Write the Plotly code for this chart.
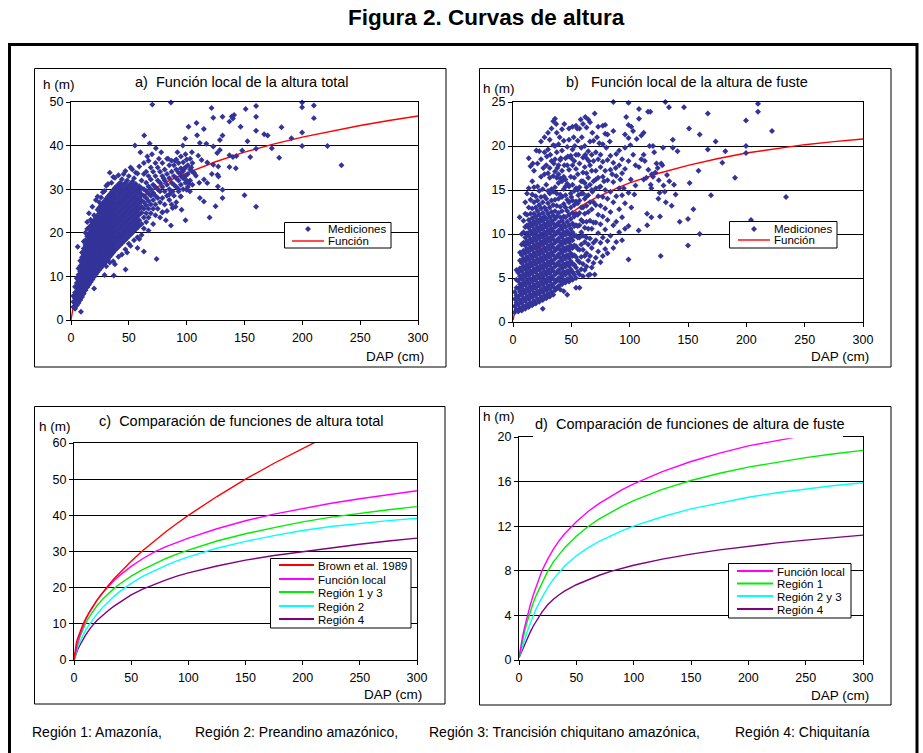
import plotly.graph_objects as go

W, H = 923, 753
def px(x): return x / W
def py(y): return 1 - y / H

FONT = "Liberation Sans, Arial, sans-serif"

# ---------------- data ----------------
dap_curve = [0, 1, 2, 3, 5, 7.5, 10, 12.5, 15, 20, 25, 30, 35, 40, 50, 60, 70, 80, 90, 100,
             125, 150, 175, 200, 225, 250, 275, 300]

# total height functions (panel c; local also panel a)
h_brown = [0, 3.2, 4.65, 5.8, 7.7, 9.6, 11.3, 12.75, 14.1, 16.5, 18.65, 20.6, 22.45, 24.15, 27.3, 30.2,
           32.9, 35.4, 37.75, 40.0, 45.2, 50.0, 54.4, 58.6, 62.5, 66.2, 69.8, 73.2]
h_local_total = [0, 1.8, 3.3, 4.6, 6.8, 9.1, 11.0, 12.6, 14.0, 16.5, 18.6, 20.4, 22.0, 23.4, 25.9, 28.0,
                 29.8, 31.3, 32.6, 33.7, 36.3, 38.5, 40.35, 41.95, 43.35, 44.6, 45.75, 46.8]
h_reg13_total = [0, 1.6, 3.0, 4.2, 6.2, 8.3, 10.0, 11.5, 12.8, 15.0, 16.8, 18.4, 19.8, 21.0, 23.2, 25.0,
                 26.6, 28.0, 29.3, 30.4, 32.9, 34.9, 36.6, 38.2, 39.5, 40.6, 41.55, 42.4]
h_reg2_total = [0, 1.3, 2.4, 3.3, 4.9, 6.6, 8.1, 9.4, 10.6, 12.7, 14.5, 16.1, 17.6, 18.9, 21.2, 23.1,
                24.7, 26.1, 27.4, 28.5, 30.9, 32.8, 34.4, 35.8, 36.9, 37.8, 38.55, 39.2]
h_reg4_total = [0, 1.0, 1.9, 2.7, 4.0, 5.5, 6.8, 8.0, 9.1, 10.9, 12.4, 13.7, 14.9, 16.0, 18.0, 19.6,
                20.9, 22.1, 23.2, 24.1, 26.0, 27.6, 28.9, 30.0, 31.05, 32.0, 32.9, 33.7]

# bole height functions (panel d; local also panel b)
h_local_fuste = [0.2, 0.9, 1.5, 2.05, 3.0, 4.05, 5.0, 5.85, 6.6, 8.0, 9.05, 9.95, 10.7, 11.35, 12.4, 13.3,
                 14.05, 14.7, 15.28, 15.8, 16.9, 17.8, 18.55, 19.2, 19.7, 20.15, 20.5, 20.8]
h_reg1_fuste = [0.2, 0.75, 1.25, 1.75, 2.6, 3.55, 4.4, 5.15, 5.8, 6.95, 7.95, 8.8, 9.5, 10.1, 11.1, 11.95,
                12.65, 13.25, 13.8, 14.3, 15.3, 16.1, 16.75, 17.3, 17.75, 18.15, 18.5, 18.8]
h_reg23_fuste = [0.2, 0.55, 0.9, 1.25, 1.9, 2.65, 3.35, 4.0, 4.6, 5.6, 6.5, 7.25, 7.9, 8.45, 9.35, 10.05,
                 10.65, 11.15, 11.6, 12.0, 12.85, 13.55, 14.1, 14.6, 15.0, 15.35, 15.65, 15.9]
h_reg4_fuste = [0.2, 0.45, 0.7, 0.95, 1.45, 2.0, 2.55, 3.05, 3.5, 4.3, 4.95, 5.45, 5.85, 6.2, 6.75, 7.2,
                7.6, 7.95, 8.25, 8.5, 9.05, 9.5, 9.88, 10.2, 10.5, 10.75, 10.98, 11.2]

# measurements, panel a (total height): dense columns + scattered points
med_a_cols = [
    (2.0, [3.0, 4.2, 5.5]),
    (3.5, [2.6, 3.8, 5.0, 6.3, 7.6]),
    (5.0, [3.3, 4.6, 5.9, 7.2, 8.5, 9.6]),
    (6.5, [3.9, 5.2, 6.5, 7.8, 9.1, 10.4, 11.8]),
    (8.0, [4.6, 5.9, 7.2, 8.5, 9.8, 11.1, 12.4, 13.6]),
    (9.5, [5.3, 6.6, 7.9, 9.2, 10.5, 11.8, 13.1, 14.4, 15.5]),
    (11.0, [6.0, 7.3, 8.6, 9.9, 11.2, 12.5, 13.8, 15.1, 16.4, 18.0]),
    (12.5, [6.8, 8.1, 9.4, 10.7, 12.0, 13.3, 14.6, 15.9, 17.2, 18.3, 20.0]),
    (14.0, [7.5, 8.8, 10.1, 11.4, 12.7, 14.0, 15.3, 16.6, 17.9, 19.2, 20.9, 22.5]),
    (15.5, [8.1, 9.4, 10.7, 12.0, 13.3, 14.6, 15.9, 17.2, 18.5, 19.8, 21.2, 24.5]),
    (17.0, [8.7, 10.0, 11.3, 12.6, 13.9, 15.2, 16.5, 17.8, 19.1, 20.4, 21.7, 23.0]),
    (18.5, [9.3, 10.6, 11.9, 13.2, 14.5, 15.8, 17.1, 18.4, 19.7, 21.0, 22.3, 26.0]),
    (20.0, [7.2, 9.9, 11.2, 12.5, 13.8, 15.1, 16.4, 17.7, 19.0, 20.3, 21.6, 22.9, 24.0]),
    (21.5, [10.5, 11.8, 13.1, 14.4, 15.7, 17.0, 18.3, 19.6, 20.9, 22.2, 23.5, 27.5]),
    (23.0, [11.0, 12.3, 13.6, 14.9, 16.2, 17.5, 18.8, 20.1, 21.4, 22.7, 24.0, 25.3, 28.3]),
    (24.5, [11.5, 12.8, 14.1, 15.4, 16.7, 18.0, 19.3, 20.6, 21.9, 23.2, 24.5, 25.8, 27.0]),
    (26.0, [12.0, 13.3, 14.6, 15.9, 17.2, 18.5, 19.8, 21.1, 22.4, 23.7, 25.0, 26.3, 28.1]),
    (27.5, [12.5, 13.8, 15.1, 16.4, 17.7, 19.0, 20.3, 21.6, 22.9, 24.2, 25.5, 26.8, 29.3]),
    (29.0, [10.3, 13.0, 14.3, 15.6, 16.9, 18.2, 19.5, 20.8, 22.1, 23.4, 24.7, 26.0, 27.3, 29.6]),
    (30.5, [12.3, 13.5, 14.8, 16.1, 17.4, 18.7, 20.0, 21.3, 22.6, 23.9, 25.2, 26.5, 27.8, 30.8]),
    (32.0, [14.0, 15.3, 16.6, 17.9, 19.2, 20.5, 21.8, 23.1, 24.4, 25.7, 27.0, 28.3, 31.2]),
    (33.5, [13.2, 14.5, 15.8, 17.1, 18.4, 19.7, 21.0, 22.3, 23.6, 24.9, 26.2, 27.5, 28.8, 33.8]),
    (35.0, [15.0, 16.3, 17.6, 18.9, 20.2, 21.5, 22.8, 24.1, 25.4, 26.7, 28.0, 29.3, 31.5]),
    (36.5, [13.5, 15.5, 16.8, 18.1, 19.4, 20.7, 22.0, 23.3, 24.6, 25.9, 27.2, 28.5, 29.8, 32.8]),
    (38.0, [12.8, 16.0, 17.3, 18.6, 19.9, 21.2, 22.5, 23.8, 25.1, 26.4, 27.7, 29.0, 30.3, 32.6]),
    (39.5, [16.4, 17.7, 19.0, 20.3, 21.6, 22.9, 24.2, 25.5, 26.8, 28.1, 29.4, 30.7]),
    (41.0, [14.5, 16.8, 18.1, 19.4, 20.7, 22.0, 23.3, 24.6, 25.9, 27.2, 28.5, 29.8, 31.1, 33.2]),
    (42.5, [17.2, 18.5, 19.8, 21.1, 22.4, 23.7, 25.0, 26.3, 27.6, 28.9, 30.2, 31.5]),
    (44.0, [15.0, 17.6, 18.9, 20.2, 21.5, 22.8, 24.1, 25.4, 26.7, 28.0, 29.3, 30.6, 32.3]),
    (45.5, [18.0, 19.3, 20.6, 21.9, 23.2, 24.5, 25.8, 27.1, 28.4, 29.7, 31.0, 33.5]),
    (47.0, [16.2, 18.4, 19.7, 21.0, 22.3, 23.6, 24.9, 26.2, 27.5, 28.8, 30.1, 31.4, 34.2]),
    (48.5, [15.5, 18.8, 20.1, 21.4, 22.7, 24.0, 25.3, 26.6, 27.9, 29.2, 30.5, 32.0]),
    (50.0, [17.5, 19.2, 20.5, 21.8, 23.1, 24.4, 25.7, 27.0, 28.3, 29.6, 30.9, 33.0]),
    (51.5, [17.0, 19.6, 20.9, 22.2, 23.5, 24.8, 26.1, 27.4, 28.7, 30.0, 31.3, 35.0]),
    (53.0, [20.0, 21.3, 22.6, 23.9, 25.2, 26.5, 27.8, 29.1, 30.4, 31.7, 34.5]),
    (54.5, [18.3, 20.4, 21.7, 23.0, 24.3, 25.6, 26.9, 28.2, 29.5, 30.8, 32.5]),
    (56.0, [20.8, 22.1, 23.4, 24.7, 26.0, 27.3, 28.6, 29.9, 31.2, 33.8]),
    (57.5, [16.5, 19.0, 21.2, 22.5, 23.8, 25.1, 26.4, 27.7, 29.0, 30.3, 33.6]),
    (59.0, [18.6, 21.6, 22.9, 24.2, 25.5, 26.8, 28.1, 29.4, 30.7, 35.2]),
    (61.0, [19.5, 22.0, 24.6, 26.0, 27.4, 28.8, 30.2, 32.0]),
    (63.0, [15.7, 21.0, 23.5, 25.5, 27.0, 28.5, 30.0, 33.5, 36.0]),
    (65.0, [22.5, 24.5, 26.3, 28.0, 29.6, 31.5, 34.0]),
    (67.0, [20.5, 23.5, 25.5, 27.3, 29.0, 30.6, 33.0, 36.5]),
    (69.0, [24.5, 26.5, 28.5, 30.0, 32.2, 35.0]),
    (71.0, [22.0, 25.5, 27.5, 29.2, 31.0, 34.0]),
    (73.0, [24.0, 26.5, 28.5, 30.5, 33.0, 36.0]),
    (75.0, [25.5, 28.0, 30.0, 32.0, 35.0]),
    (77.0, [23.5, 27.0, 29.5, 31.5, 34.0]),
    (79.0, [24.7, 28.0, 30.5, 33.0, 36.0]),
    (81.0, [26.5, 29.5, 32.0, 34.5]),
    (83.0, [25.0, 28.5, 31.0, 33.5, 37.0]),
    (85.0, [27.5, 30.0, 32.5, 35.5]),
    (87.0, [26.5, 29.5, 31.5, 34.0, 36.5]),
    (89.0, [28.5, 31.0, 33.0, 35.5]),
    (91.0, [27.0, 30.5, 32.5, 34.5, 36.8]),
    (93.0, [29.5, 32.0, 33.8, 36.0]),
    (95.0, [28.3, 31.0, 33.0, 34.8, 37.5]),
    (97.0, [30.0, 32.5, 34.2, 36.2]),
    (99.0, [31.5, 33.0, 35.0, 38.0]),
    (101.0, [30.5, 33.5, 35.5]),
    (103.0, [32.0, 34.5, 37.0]),
    (105.0, [31.0, 34.0, 36.0]),
]
med_a_sueltos = [
    (70.3, 49.4), (86.4, 49.9), (121.5, 48.6), (160, 49.1), (199.8, 49.9), (199.8, 48.8),
    (210, 49.2), (210, 46.3), (160, 46.6), (151, 48.4), (139, 46.7), (137, 45.5), (140, 46.2),
    (141, 47.0), (146.6, 44.3), (182, 44.2), (160, 43.4), (199.8, 43.0), (190.6, 41.7),
    (167, 42.6), (170, 42.3), (152.6, 41.0), (173.6, 39.4), (160, 39.3), (199.8, 39.9),
    (221.7, 39.9), (180, 37.2), (233.8, 35.5), (155, 37.4), (148, 38.9), (143, 37.6),
    (140, 37.4), (137, 37.8), (142.5, 34.8), (137, 35.1), (150, 28.6), (160, 26.0),
    (125, 26.1), (119.8, 23.5), (99, 22.9), (86.4, 21.7), (82, 22.9), (74, 14.0), (47.2, 11.6),
    (5.8, 16.8), (8.6, 1.9), (37, 10.2), (63.3, 42.3), (55.3, 40.0), (73.4, 39.4),
    (108.5, 45.2), (101.6, 44.3), (114.9, 43.8), (123, 46.4), (131, 46.6), (109, 42.4),
    (98.8, 41.6), (111.4, 40.6), (117, 40.4), (128.7, 41.3), (131, 42.3), (123, 39.8),
    (128.7, 39.0), (126.4, 38.3), (96.7, 40.0), (104.5, 38.5), (110, 37.7), (112.9, 36.7),
    (117.8, 36.1), (123, 35.6), (127.3, 35.2), (121.8, 33.5), (126.7, 33.3), (127.5, 32.9),
    (106.5, 33.7), (108, 33.1), (110.9, 31.5), (102.8, 29.5), (115, 32.2), (117.8, 31.4),
    (127, 30.6), (131, 29.9), (131, 28.0), (111.4, 28.0), (114.9, 27.2), (94.7, 28.3),
    (99.9, 29.9), (90.4, 26.0), (87.8, 25.7), (95.6, 25.3), (79, 24.7), (66, 37.5),
    (60, 38.5), (68, 40.5), (78, 38.5), (84, 37.0), (90, 36.5), (92, 38.5), (100, 36.8),
    (104, 35.0), (95, 33.8), (97, 32.8), (100, 32.0), (102, 31.3), (98, 34.8), (93, 30.0),
    (88, 29.5), (85, 28.8), (80, 32.5), (76, 37.0), (70, 38.0),
]

# measurements, panel b (bole height)
med_b_cols = [
    (1.5, [1.1, 1.8, 2.6, 3.4]),
    (3.0, [1.4, 2.2, 3.0, 3.9, 4.8, 5.9]),
    (4.5, [1.2, 2.0, 2.9, 3.8, 4.7, 5.6]),
    (5.7, [11.9]),
    (6.0, [1.6, 2.5, 3.4, 4.3, 5.2, 6.1, 7.0, 7.9]),
    (7.5, [1.3, 2.2, 3.1, 4.0, 4.9, 5.8, 6.7, 7.6, 8.8, 10.0]),
    (9.0, [1.8, 2.7, 3.6, 4.5, 5.4, 6.3, 7.2, 8.1, 9.0, 10.2, 11.5]),
    (10.5, [1.5, 2.4, 3.3, 4.2, 5.1, 6.0, 6.9, 7.8, 8.7, 9.6, 10.8, 12.3, 13.6]),
    (12.0, [2.0, 2.9, 3.8, 4.7, 5.6, 6.5, 7.4, 8.3, 9.2, 10.1, 11.0, 12.2, 14.6]),
    (13.5, [1.7, 2.6, 3.5, 4.4, 5.3, 6.2, 7.1, 8.0, 8.9, 9.8, 10.7, 11.6, 13.0, 15.2, 18.6]),
    (15.0, [2.2, 3.1, 4.0, 4.9, 5.8, 6.7, 7.6, 8.5, 9.4, 10.3, 11.2, 12.3, 13.9, 17.7]),
    (16.5, [1.9, 2.8, 3.7, 4.6, 5.5, 6.4, 7.3, 8.2, 9.1, 10.0, 10.9, 11.8, 12.9, 14.5, 16.0]),
    (18.0, [2.4, 3.3, 4.2, 5.1, 6.0, 6.9, 7.8, 8.7, 9.6, 10.5, 11.4, 12.3, 13.6, 15.3, 17.2]),
    (19.5, [2.1, 3.0, 3.9, 4.8, 5.7, 6.6, 7.5, 8.4, 9.3, 10.2, 11.1, 12.0, 13.0, 14.3]),
    (21.0, [2.6, 3.5, 4.4, 5.3, 6.2, 7.1, 8.0, 8.9, 9.8, 10.7, 11.6, 12.6, 13.8, 15.4, 18.0]),
    (22.5, [2.3, 3.2, 4.1, 5.0, 5.9, 6.8, 7.7, 8.6, 9.5, 10.4, 11.3, 12.2, 13.3, 14.9, 19.4]),
    (24.0, [2.8, 3.7, 4.6, 5.5, 6.4, 7.3, 8.2, 9.1, 10.0, 10.9, 11.8, 12.9, 14.2, 16.5, 18.5]),
    (25.5, [1.5, 2.5, 3.4, 4.3, 5.2, 6.1, 7.0, 7.9, 8.8, 9.7, 10.6, 11.5, 12.4, 13.6, 15.1]),
    (27.0, [3.0, 3.9, 4.8, 5.7, 6.6, 7.5, 8.4, 9.3, 10.2, 11.1, 12.0, 13.0, 14.3, 16.8, 19.3, 21.0]),
    (28.5, [2.7, 3.6, 4.5, 5.4, 6.3, 7.2, 8.1, 9.0, 9.9, 10.8, 11.7, 12.7, 14.0, 15.6, 17.8]),
    (30.0, [3.2, 4.1, 5.0, 5.9, 6.8, 7.7, 8.6, 9.5, 10.4, 11.3, 12.3, 13.5, 14.9, 16.9, 19.6]),
    (31.5, [2.9, 3.8, 4.7, 5.6, 6.5, 7.4, 8.3, 9.2, 10.1, 11.0, 11.9, 13.0, 14.6, 16.4, 17.5, 20.7]),
    (33.0, [3.4, 4.3, 5.2, 6.1, 7.0, 7.9, 8.8, 9.7, 10.6, 11.5, 12.5, 13.8, 15.1, 18.3]),
    (34.5, [3.1, 4.0, 4.9, 5.8, 6.7, 7.6, 8.5, 9.4, 10.3, 11.2, 12.1, 13.3, 14.8, 16.6, 20.1, 22.8]),
    (36.0, [3.6, 4.5, 5.4, 6.3, 7.2, 8.1, 9.0, 9.9, 10.8, 11.7, 12.6, 13.9, 15.3, 17.1, 18.5, 23.1]),
    (37.5, [3.8, 4.7, 5.6, 6.5, 7.4, 8.3, 9.2, 10.1, 11.0, 12.0, 13.2, 14.6, 16.4, 19.3, 21.5]),
    (39.0, [4.1, 5.0, 5.9, 6.8, 7.7, 8.6, 9.5, 10.4, 11.3, 12.4, 14.0, 15.8, 17.8, 20.2]),
    (40.5, [3.7, 4.6, 5.5, 6.4, 7.3, 8.2, 9.1, 10.0, 10.9, 11.9, 13.1, 14.5, 16.3, 18.4]),
    (42.0, [4.3, 5.2, 6.1, 7.0, 7.9, 8.8, 9.7, 10.6, 11.5, 12.6, 14.2, 16.0, 17.2, 19.5, 21.9]),
    (43.5, [3.5, 4.8, 5.7, 6.6, 7.5, 8.4, 9.3, 10.2, 11.1, 12.0, 13.4, 15.1, 16.5, 20.6]),
    (45.0, [4.5, 5.4, 6.3, 7.2, 8.1, 9.0, 9.9, 10.8, 11.9, 13.0, 14.4, 16.2, 18.6]),
    (46.5, [3.1, 4.9, 5.8, 6.7, 7.6, 8.5, 9.4, 10.3, 11.4, 12.6, 13.9, 15.7, 17.8, 19.9]),
    (48.0, [4.6, 5.5, 6.4, 7.3, 8.2, 9.1, 10.0, 11.0, 12.2, 13.6, 15.4, 17.3, 20.7]),
    (49.5, [5.1, 6.0, 6.9, 7.8, 8.7, 9.6, 10.6, 11.7, 13.0, 14.6, 16.5, 18.9]),
    (51.0, [4.8, 5.7, 6.6, 7.5, 8.4, 9.3, 10.2, 11.2, 12.4, 13.8, 15.6, 17.8, 19.6, 22.2]),
    (52.5, [5.4, 6.5, 7.6, 8.7, 9.8, 10.9, 12.0, 13.3, 14.9, 16.4, 18.3]),
    (54.0, [3.9, 5.0, 6.2, 7.4, 8.6, 9.8, 11.0, 12.3, 13.7, 15.2, 17.4, 19.0, 22.3]),
    (55.5, [5.7, 7.0, 8.3, 9.6, 10.9, 12.2, 13.5, 15.0, 16.8, 20.6]),
    (57.0, [3.9, 5.4, 6.8, 8.2, 9.6, 11.0, 12.4, 13.8, 15.3, 18.0, 22.0]),
    (58.5, [6.0, 7.4, 8.8, 10.2, 11.6, 13.0, 14.6, 16.0, 19.8]),
    (60.0, [5.2, 6.6, 8.2, 9.8, 11.4, 13.0, 14.6, 17.0, 18.7, 22.5]),
    (61.5, [5.9, 7.5, 9.1, 10.7, 12.3, 14.0, 15.8, 17.6, 20.0]),
    (63.0, [6.3, 7.8, 9.6, 11.4, 13.2, 15.3, 16.9, 18.6, 22.1]),
    (64.5, [5.3, 7.0, 8.8, 10.6, 12.5, 14.4, 16.4, 19.4, 23.0]),
    (66.0, [5.4, 7.5, 9.5, 11.5, 13.6, 15.6, 17.8, 22.7]),
    (67.5, [6.2, 8.4, 10.6, 12.8, 15.0, 17.2, 19.0]),
    (69.0, [6.7, 9.0, 11.3, 13.6, 16.0, 18.3, 20.6]),
    (70.0, [5.4, 23.7]),
    (71.0, [7.3, 9.3, 11.3, 13.3, 15.2, 17.2, 19.3]),
    (73.0, [8.0, 10.1, 12.2, 14.3, 16.4, 18.5, 22.2]),
    (75.0, [6.8, 9.0, 11.1, 13.2, 15.4, 17.6, 19.0]),
    (77.0, [7.5, 9.6, 12.0, 14.2, 16.5, 18.2, 22.3]),
    (79.0, [8.3, 10.5, 12.9, 15.0, 17.2, 21.4, 22.4]),
    (81.0, [7.8, 9.2, 11.6, 14.0, 16.1, 18.4, 21.3]),
    (83.5, [9.8, 12.5, 14.8, 17.3, 18.9]),
    (86.0, [8.4, 11.0, 13.6, 15.9, 18.1, 21.7, 25.0]),
    (88.5, [9.1, 11.4, 14.3, 16.6, 19.1]),
    (91.0, [10.2, 12.8, 15.2, 17.8, 19.5]),
    (93.5, [9.3, 11.9, 14.4, 16.9, 18.5]),
    (96.0, [10.6, 13.5, 17.4, 19.8, 21.3]),
    (99.0, [7.1, 10.9, 14.7, 18.3, 20.9, 22.4, 24.9]),
]
med_b_sueltos = [
    (97, 23.3), (101.4, 22.2), (102.9, 21.7), (100.6, 20.1), (103, 19.0), (105, 17.8),
    (101, 16.2), (107.7, 10.4), (101.4, 13.0), (104, 14.5), (108, 24.2), (108, 23.1),
    (110, 21.2), (112, 16.2), (114.3, 16.4), (115.7, 23.9), (117.7, 23.9), (117, 20.0),
    (120, 20.0), (114.9, 12.3), (118.6, 11.9), (115, 11.0), (118, 15.6), (118.6, 15.2),
    (122, 17.0), (124.6, 14.0), (125.7, 14.7), (126.6, 7.5), (128.6, 19.8), (130, 14.8),
    (131, 13.6), (130.6, 25.0), (133.7, 24.4), (136, 13.2), (137, 20.7), (137, 19.8),
    (138, 15.6), (139.4, 14.5), (141, 19.4), (142.9, 11.4), (146.6, 24.4), (150.9, 22.0),
    (151.4, 15.8), (150, 11.7), (150, 8.7), (154.6, 12.8), (159, 17.2), (160, 21.3),
    (160, 10.0), (167, 23.7), (167, 19.6), (169.7, 14.4), (173.7, 20.5), (179.4, 18.1),
    (182, 19.4), (190.3, 16.4), (199.7, 22.9), (199.7, 20.0), (199.7, 19.2), (204, 11.6),
    (210, 24.8), (210, 23.9), (222, 21.7), (234, 14.2), (127, 18.0), (124, 17.5),
    (110, 18.5), (106, 20.8), (112, 21.5), (105, 15.5), (120, 16.5), (134, 16.0),
    (126, 12.0), (112, 19.0), (108, 17.6), (113, 18.3), (116, 17.3), (119, 16.8),
    (123, 18.0), (125, 16.1), (129, 15.5), (132, 16.7), (128, 17.8), (121, 19.3),
    (26, 17.5), (29, 18.8), (32, 19.0), (35, 18.0), (38, 17.5), (41, 18.6), (44, 17.8),
    (47, 18.8), (50, 18.6), (53, 20.0), (56, 19.0), (59, 21.0), (62, 19.0), (65, 18.3),
    (68, 21.5), (72, 21.0), (74, 20.3), (77, 20.2), (80, 19.8), (83, 20.5), (88, 17.5),
    (92, 16.2), (95, 15.2), (85, 16.8), (78, 16.0), (74, 15.3), (30, 21.5), (33, 22.0),
    (37, 22.5), (40, 21.0), (44, 22.5), (48, 22.0), (52, 21.0), (55, 22.0), (58, 23.0),
    (62, 23.3), (66, 20.5), (36, 20.0), (24, 20.5), (20, 19.5), (17, 18.0), (39, 16.8),
    (45, 15.4), (50, 14.2), (56, 14.4), (60, 16.0), (63, 14.3), (68, 14.8), (71, 16.2),
]

def flatten(cols, sueltos):
    xs, ys = [], []
    for x, col in cols:
        for y in col:
            xs.append(x)
            ys.append(y)
    for x, y in sueltos:
        xs.append(x)
        ys.append(y)
    return xs, ys

dap_a, h_a = flatten(med_a_cols, med_a_sueltos)
dap_b, h_b = flatten(med_b_cols, med_b_sueltos)

# ---------------- figure ----------------
NAVY = "#333399"
RED = "#FF0000"
MAG = "#FF00FF"
GRN = "#00EE00"
CYN = "#00FFFF"
PUR = "#800080"
LW = 1.4

fig = go.Figure()

def curve(x, y, color, name, ax):
    fig.add_trace(go.Scatter(x=x, y=y, mode="lines", name=name,
                             line=dict(color=color, width=LW),
                             xaxis="x" + ax, yaxis="y" + ax, showlegend=False,
                             hoverinfo="skip"))

def points(x, y, name, ax):
    fig.add_trace(go.Scatter(x=x, y=y, mode="markers", name=name,
                             marker=dict(symbol="diamond", size=4.6, color=NAVY, line=dict(width=0)),
                             xaxis="x" + ax, yaxis="y" + ax, showlegend=False, cliponaxis=False))

# a
curve(dap_curve, h_local_total, RED, "Función", "")
points(dap_a, h_a, "Mediciones", "")
# b
curve(dap_curve, h_local_fuste, RED, "Función", "2")
points(dap_b, h_b, "Mediciones", "2")
# c
curve(dap_curve, h_reg4_total, PUR, "Región 4", "3")
curve(dap_curve, h_reg2_total, CYN, "Región 2", "3")
curve(dap_curve, h_reg13_total, GRN, "Región 1 y 3", "3")
curve(dap_curve, h_local_total, MAG, "Función local", "3")
curve(dap_curve, h_brown, RED, "Brown et al. 1989", "3")
# d
curve(dap_curve, h_reg4_fuste, PUR, "Región 4", "4")
curve(dap_curve, h_reg23_fuste, CYN, "Región 2 y 3", "4")
curve(dap_curve, h_reg1_fuste, GRN, "Región 1", "4")
curve(dap_curve, h_local_fuste, MAG, "Función local", "4")

tickfont = dict(family=FONT, size=12.5, color="black")

def xax(l, r, anchor):
    return dict(domain=[px(l), px(r)], anchor=anchor, range=[0, 300], dtick=50,
                showgrid=False, zeroline=False, showline=True, linecolor="black",
                linewidth=1, mirror=True, ticks="outside", ticklen=4, tickcolor="black",
                tickfont=tickfont, fixedrange=True, automargin=False, ticklabelstandoff=2)

def yax(b, t, anchor, top, dt):
    return dict(domain=[py(b), py(t)], anchor=anchor, range=[0, top], dtick=dt,
                showgrid=True, gridcolor="black", gridwidth=1, zeroline=False,
                showline=True, linecolor="black", linewidth=1, mirror=True,
                ticks="outside", ticklen=4, tickcolor="black", tickfont=tickfont,
                fixedrange=True, automargin=False)

fig.update_layout(
    width=W, height=H, autosize=False,
    margin=dict(l=0, r=0, t=0, b=0, pad=0, autoexpand=False),
    paper_bgcolor="white", plot_bgcolor="white", showlegend=False,
    font=dict(family=FONT, color="black"),
    xaxis=xax(71, 418, "y"), yaxis=yax(320, 102, "x", 50, 10),
    xaxis2=xax(513, 863, "y2"), yaxis2=yax(322, 102, "x2", 25, 5),
    xaxis3=xax(74, 417, "y3"), yaxis3=yax(660, 443, "x3", 60, 10),
    xaxis4=xax(519, 863, "y4"), yaxis4=yax(660, 437, "x4", 20, 4),
)

shapes = []
def rect(x0, y0, x1, y1, lw=1, fill="rgba(0,0,0,0)", color="black", layer="above"):
    shapes.append(dict(type="rect", xref="paper", yref="paper",
                       x0=px(x0), x1=px(x1), y0=py(y1), y1=py(y0),
                       line=dict(color=color, width=lw), fillcolor=fill, layer=layer))

def hline(x0, x1, y, color, lw=LW):
    shapes.append(dict(type="line", xref="paper", yref="paper",
                       x0=px(x0), x1=px(x1), y0=py(y), y1=py(y),
                       line=dict(color=color, width=lw), layer="above"))

def diamond(cx, cy, r=3):
    path = "M {:.5f},{:.5f} L {:.5f},{:.5f} L {:.5f},{:.5f} L {:.5f},{:.5f} Z".format(
        px(cx), py(cy - r), px(cx + r), py(cy), px(cx), py(cy + r), px(cx - r), py(cy))
    shapes.append(dict(type="path", xref="paper", yref="paper", path=path,
                       fillcolor=NAVY, line=dict(width=0), layer="above"))

# outer frame
rect(9.5, 44.5, 917, 790, lw=3)
# panel frames
rect(34.5, 68.5, 446, 367, lw=1)
rect(479.5, 68.5, 891, 367, lw=1)
rect(34.5, 406.5, 445, 704, lw=1)
rect(479.5, 406.5, 891, 705, lw=1)
# gap in the top border of panel d under its title
rect(533, 429, 843, 438.3, lw=0, fill="white", color="rgba(0,0,0,0)")

annotations = []
def text(x, y, s, size=12, anchor="left", bold=False):
    annotations.append(dict(xref="paper", yref="paper", x=px(x), y=py(y),
                            text=("<b>%s</b>" % s) if bold else s,
                            showarrow=False, xanchor=anchor, yanchor="middle",
                            font=dict(family=FONT, size=size, color="black")))

NB = "\u00a0"
text(486, 18, "Figura 2. Curvas de altura", size=22.5, anchor="center", bold=True)

AX = 13.5
TT = 14.5
# panel a texts
text(41, 84, "h (m)", size=AX)
text(133, 82, "a)" + NB * 2 + "Función local de la altura total", size=TT)
text(426, 356, "DAP (cm)", size=AX, anchor="right")
# panel b texts
text(481, 88, "h (m)", size=AX)
text(564, 82, "b)" + NB * 3 + "Función local de la altura de fuste", size=TT)
text(871, 356, "DAP (cm)", size=AX, anchor="right")
# panel c texts
text(37, 426, "h (m)", size=AX)
text(97, 421, "c)" + NB * 2 + "Comparación de funciones de altura total", size=TT)
text(424, 694, "DAP (cm)", size=AX, anchor="right")
# panel d texts
text(481, 417, "h (m)", size=AX)
text(533, 424, "d)" + NB * 2 + "Comparación de funciones de altura de fuste", size=TT)
text(871, 695, "DAP (cm)", size=AX, anchor="right")

# legend a
rect(284.5, 222.5, 391, 248, lw=1, fill="white")
diamond(308, 229)
hline(292, 324, 241, RED)
text(326, 229.5, "Mediciones", size=11.5)
text(326, 241.5, "Función", size=11.5)
# legend b
rect(729.5, 221.5, 837, 248, lw=1, fill="white")
diamond(754, 229)
hline(738, 770, 240, RED)
text(772, 229.5, "Mediciones", size=11.5)
text(772, 240.5, "Función", size=11.5)
# legend c
rect(270.5, 558.5, 411, 628, lw=1, fill="white")
leg_c = [("Brown et al. 1989", RED), ("Función local", MAG), ("Región 1 y 3", GRN),
         ("Región 2", CYN), ("Región 4", PUR)]
for (lab, col), yy in zip(leg_c, [565, 579, 592, 606, 619]):
    hline(279, 314, yy, col, lw=1.8)
    text(316, yy + 0.5, lab, size=11.5)
# legend d
rect(728.5, 563.5, 851, 618, lw=1, fill="white")
leg_d = [("Función local", MAG), ("Región 1", GRN), ("Región 2 y 3", CYN), ("Región 4", PUR)]
for (lab, col), yy in zip(leg_d, [571, 583.5, 596, 609]):
    hline(737, 773, yy, col, lw=1.8)
    text(775, yy + 0.5, lab, size=11.5)

# footer
FT = 14
text(30, 732, "Región 1: Amazonía,", size=FT)
text(193, 732, "Región 2: Preandino amazónico,", size=FT)
text(427, 732, "Región 3: Trancisión chiquitano amazónica,", size=FT)
text(733, 732, "Región 4: Chiquitanía", size=FT)

fig.update_layout(shapes=shapes, annotations=annotations)
fig.write_html("out.html",
               config={"displayModeBar": False},
               post_script="document.body.style.margin='0px';document.body.style.padding='0px';"
                           "document.body.style.overflow='hidden';")
